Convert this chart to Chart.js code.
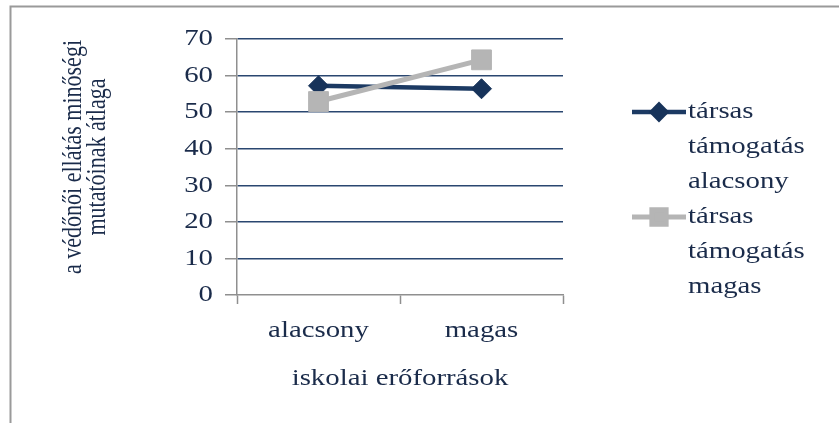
<!DOCTYPE html>
<html>
<head>
<meta charset="utf-8">
<script src="https://cdn.jsdelivr.net/npm/chart.js@4.4.1/dist/chart.umd.min.js"></script>
<style>
  html, body { margin: 0; padding: 0; background: #ffffff; }
  canvas { display: block; }
</style>
</head>
<body>
<canvas id="chart" width="839" height="423"></canvas>
<script>
// Categories and series values
const categories = ['alacsony', 'magas'];
const seriesLabels = ['társas támogatás alacsony', 'társas támogatás magas'];
const supportLow = [57.2, 56.4];
const supportHigh = [52.9, 64.3];
const yMin = 0;
const yMax = 70;
const yStep = 10;
const xTitle = 'iskolai erőforrások';
const yTitle = ['a védőnői ellátás minőségi', 'mutatóinak átlaga'];

const NAVY = '#1c3a63';
const NAVY_MARK = '#17335a';
const GRID = '#2a4770';
const GRAY_LINE = '#b5b5b5';
const AXIS = '#8f8f8f';
const TEXT = '#1a2b4a';
const FONT = "'Liberation Serif', 'Times New Roman', serif";
const WIDE = 1.2; // horizontal (screen x) widening of all text

const canvas = document.getElementById('chart');
const ctx = canvas.getContext('2d');

// Text is widened along the screen x direction around its anchor point.
(function widenText(c) {
  const fill = c.fillText.bind(c);
  const measure = c.measureText.bind(c);
  c.fillText = function (t, x, y, maxW) {
    const m = c.getTransform();
    const px = m.a * x + m.c * y + m.e;
    const py = m.b * x + m.d * y + m.f;
    const upright = Math.abs(m.b) < 0.01 && Math.abs(m.c) < 0.01;
    c.save();
    c.setTransform(new DOMMatrix().translate(px, py).scale(WIDE, 1).translate(-px, -py).multiply(m));
    if (maxW === undefined || !upright) fill(t, x, y); else fill(t, x, y, maxW / WIDE);
    c.restore();
  };
  c.measureText = function (t) {
    const r = measure(t);
    const m = c.getTransform();
    const k = (Math.abs(m.b) < 0.01 && Math.abs(m.c) < 0.01) ? WIDE : 1;
    return {
      width: r.width * k,
      actualBoundingBoxAscent: r.actualBoundingBoxAscent,
      actualBoundingBoxDescent: r.actualBoundingBoxDescent,
      actualBoundingBoxLeft: r.actualBoundingBoxLeft,
      actualBoundingBoxRight: r.actualBoundingBoxRight
    };
  };
})(ctx);

// Outer frame, rotated y title and the wrapped legend
const decorations = {
  id: 'decorations',
  afterDraw(chart) {
    const c = chart.ctx;
    const area = chart.chartArea;

    c.save();
    c.strokeStyle = '#9a9a9a';
    c.lineWidth = 2;
    c.beginPath();
    c.moveTo(10.5, 423);
    c.lineTo(10.5, 6.5);
    c.lineTo(839, 6.5);
    c.stroke();

    // y axis title, two lines reading bottom to top
    c.fillStyle = TEXT;
    c.font = "22px " + FONT;
    c.textAlign = 'center';
    c.textBaseline = 'alphabetic';
    const midY = (area.top + area.bottom) / 2 - 10;
    yTitle.forEach((line, i) => {
      c.save();
      c.translate(81 + i * 24, midY);
      c.rotate(-Math.PI / 2);
      c.fillText(line, 0, 0);
      c.restore();
    });

    // legend: one word per line, sample line with marker on the first line
    const lineH = 35;
    let y = 112;
    const markX0 = 632, markX1 = 686, textX = 688;
    chart.data.datasets.forEach((ds) => {
      c.strokeStyle = ds.borderColor;
      c.lineWidth = ds.borderWidth;
      c.beginPath();
      c.moveTo(markX0, y);
      c.lineTo(markX1, y);
      c.stroke();
      c.fillStyle = ds.pointBackgroundColor;
      c.strokeStyle = ds.pointBorderColor;
      Chart.helpers.drawPoint(c, {
        pointStyle: ds.pointStyle,
        radius: ds.pointRadius * 0.72,
        borderWidth: 1,
        rotation: 0
      }, (markX0 + markX1) / 2, y);

      c.fillStyle = TEXT;
      c.font = "24px " + FONT;
      c.textAlign = 'left';
      c.textBaseline = 'middle';
      ds.label.split(' ').forEach((word) => {
        c.fillText(word, textX, y);
        y += lineH;
      });
    });
    c.restore();
  }
};

new Chart(ctx, {
  type: 'line',
  data: {
    labels: categories,
    datasets: [
      {
        label: seriesLabels[0],
        data: supportLow,
        borderColor: NAVY,
        borderWidth: 4.5,
        pointStyle: 'rectRot',
        pointRadius: 10,
        pointBackgroundColor: NAVY_MARK,
        pointBorderColor: NAVY_MARK,
        pointBorderWidth: 1,
        tension: 0,
        order: 1
      },
      {
        label: seriesLabels[1],
        data: supportHigh,
        borderColor: GRAY_LINE,
        borderWidth: 5,
        pointStyle: 'rect',
        pointRadius: 14,
        pointBackgroundColor: GRAY_LINE,
        pointBorderColor: GRAY_LINE,
        pointBorderWidth: 1,
        tension: 0,
        order: 0
      }
    ]
  },
  options: {
    responsive: false,
    animation: false,
    devicePixelRatio: 1,
    layout: { padding: { top: 39, right: 276, bottom: 0, left: 0 } },
    plugins: {
      legend: { display: false },
      tooltip: { enabled: false },
      title: { display: false }
    },
    scales: {
      x: {
        type: 'category',
        offset: true,
        afterFit(s) { s.height = 128; },
        grid: {
          offset: true,
          color: 'rgba(0,0,0,0)',
          tickColor: AXIS,
          tickWidth: 1.5,
          tickLength: 9
        },
        border: { color: AXIS, width: 1.5 },
        ticks: {
          color: TEXT,
          padding: 12,
          font: { family: FONT, size: 24 },
          maxRotation: 0
        },
        title: {
          display: true,
          text: xTitle,
          color: TEXT,
          font: { family: FONT, size: 24 },
          padding: { top: 0, bottom: 30 }
        }
      },
      y: {
        min: yMin,
        max: yMax,
        afterFit(s) { s.width = 237; },
        grid: {
          color: (c) => (c.tick && c.tick.value === yMin ? 'rgba(0,0,0,0)' : GRID),
          lineWidth: 1.5,
          tickColor: AXIS,
          tickWidth: 1.5,
          tickLength: 12
        },
        border: { color: AXIS, width: 1.5 },
        ticks: {
          stepSize: yStep,
          color: TEXT,
          padding: 12,
          font: { family: FONT, size: 24 }
        }
      }
    }
  },
  plugins: [decorations]
});
</script>
</body>
</html>
